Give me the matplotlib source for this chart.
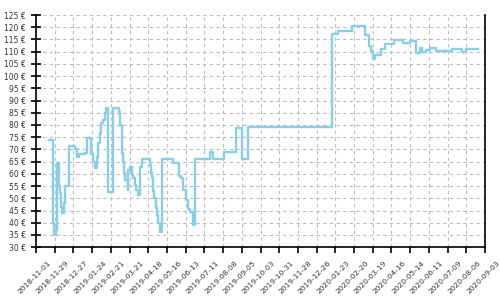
import matplotlib
matplotlib.use("Agg")
import matplotlib.pyplot as plt
import matplotlib.transforms as mtransforms
import numpy as np
import pandas as pd

# price history (step changes)
dates = ["2018-11-20", "2018-11-26", "2018-11-27", "2018-11-28", "2018-12-01",
         "2018-12-03", "2018-12-05", "2018-12-07", "2018-12-08", "2018-12-10",
         "2018-12-13", "2018-12-15", "2018-12-20", "2018-12-30", "2019-01-02",
         "2019-01-04", "2019-01-14", "2019-01-17", "2019-01-22", "2019-01-26",
         "2019-01-28", "2019-01-31", "2019-02-02", "2019-02-05", "2019-02-07",
         "2019-02-09", "2019-02-12", "2019-02-14", "2019-02-17", "2019-02-24",
         "2019-03-05", "2019-03-07", "2019-03-10", "2019-03-11", "2019-03-13",
         "2019-03-14", "2019-03-18", "2019-03-19", "2019-03-21", "2019-03-24",
         "2019-03-26", "2019-03-29", "2019-03-31", "2019-04-03", "2019-04-05",
         "2019-04-08", "2019-04-20", "2019-04-22", "2019-04-24", "2019-04-25",
         "2019-04-27", "2019-04-29", "2019-05-01", "2019-05-03", "2019-05-06",
         "2019-05-09", "2019-05-25", "2019-06-03", "2019-06-06", "2019-06-09",
         "2019-06-13", "2019-06-17", "2019-06-19", "2019-06-24", "2019-06-27",
         "2019-07-19", "2019-07-24", "2019-08-09", "2019-08-28", "2019-09-06",
         "2019-09-14", "2020-01-18", "2020-01-27", "2020-02-17", "2020-03-07",
         "2020-03-14", "2020-03-16", "2020-03-20", "2020-03-23", "2020-04-01",
         "2020-04-07", "2020-04-20", "2020-05-03", "2020-05-14", "2020-05-22",
         "2020-05-23", "2020-05-28", "2020-05-31", "2020-06-06", "2020-06-12",
         "2020-06-21", "2020-07-15", "2020-07-30", "2020-08-06", "2020-08-23"]
prices = [74, 44, 40, 35, 37,
          64.4, 55, 52, 46.5, 44,
          48, 55, 71.5, 70, 67,
          68, 68.5, 74.5, 68, 65,
          62.5, 67, 72.6, 76.7, 80.8,
          82.1, 84.9, 87, 52.4, 87,
          85.5, 80, 68.5, 65, 60.3,
          57.6, 53.5, 61.7, 63, 59.6,
          58.3, 55.5, 53.5, 51.4, 63,
          66, 63.7, 60.3, 58.3, 52.8,
          50, 46, 43.2, 39.8, 36.4,
          66, 64.4, 59.2, 58.3, 53.5,
          49.4, 45.6, 44.6, 39.1, 66.2,
          69.1, 66.2, 69.1, 78.7, 66.2,
          79, 117.3, 118.6, 120.6, 116.7,
          112.4, 110.1, 107.2, 108.5, 111.1,
          113, 114.6, 113.5, 114.2, 111.7,
          109.3, 111.7, 109.7, 110.8, 111.7,
          110.1, 110.9, 109.7, 110.9, 110.9]

x_start = "2018-11-01"
x_end = "2020-09-03"
y_ticks = list(range(30, 130, 5))

d = pd.to_datetime(dates)

fig = plt.figure(figsize=(5, 3), dpi=100)
ax = fig.add_axes([0.072, 0.176, 0.898, 0.774])

ax.step(d, prices, where="post", color="#87ceeb", linewidth=1.7)

xt = pd.date_range(x_start, x_end, freq="28D")
ax.set_xticks(xt)
ax.set_xticklabels([t.strftime("%Y-%m-%d") for t in xt], rotation=45, ha="center")
ax.set_xlim(pd.Timestamp(x_start), pd.Timestamp(x_end))
ax.set_ylim(30, 125)
ax.set_yticks(y_ticks)
ax.set_yticklabels([f"{v} €" for v in y_ticks])

ax.grid(True, color="#bbbbbb", linestyle=(0, (3, 3)), linewidth=0.8)
ax.set_axisbelow(True)

ax.spines["top"].set_visible(False)
for s in ["left", "bottom", "right"]:
    ax.spines[s].set_linewidth(1.2)
ax.tick_params(axis="y", direction="inout", length=7, width=1.2,
               labelsize=5.5, labelcolor="#333333", pad=4)
ax.tick_params(axis="x", direction="out", length=4, width=1.2,
               labelsize=5.4, labelcolor="#333333", pad=5)

# nudge the date labels a little left so the last one stays inside
shift = mtransforms.ScaledTranslation(-2 / 100, 0, fig.dpi_scale_trans)
for lbl in ax.get_xticklabels():
    lbl.set_transform(lbl.get_transform() + shift)

fig.savefig("out.png", dpi=100)
